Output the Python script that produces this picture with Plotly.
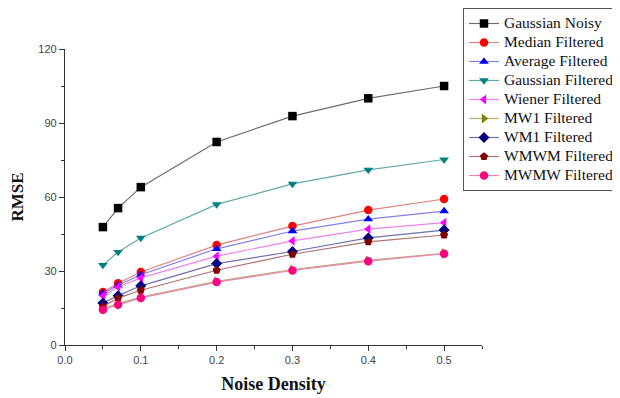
import plotly.graph_objects as go

noise_density = [0.05, 0.07, 0.1, 0.2, 0.3, 0.4, 0.5]

gaussian_noisy = [47.8, 55.5, 64.0, 82.3, 92.8, 100.0, 105.0]
median_filtered = [21.5, 25.0, 29.6, 40.5, 48.2, 54.7, 59.2]
average_filtered = [21.0, 24.2, 28.5, 39.0, 46.2, 51.0, 54.3]
gaussian_filtered = [32.4, 37.7, 43.4, 57.0, 65.3, 71.0, 75.2]
wiener_filtered = [20.0, 23.5, 27.2, 36.0, 42.2, 47.0, 49.6]
mw1_filtered = [14.8, 16.8, 19.4, 25.8, 30.6, 34.3, 37.2]
wm1_filtered = [17.0, 20.0, 24.0, 33.0, 37.9, 43.4, 46.6]
wmwm_filtered = [15.6, 19.0, 22.2, 30.3, 36.8, 41.8, 44.6]
mwmw_filtered = [14.3, 16.3, 19.1, 25.5, 30.2, 34.0, 37.0]

series = [
    ("Gaussian Noisy", gaussian_noisy, "#000000", "#6e6e6e", "square"),
    ("Median Filtered", median_filtered, "#ff0000", "#e08080", "circle"),
    ("Average Filtered", average_filtered, "#0000ff", "#8080e8", "triangle-up"),
    ("Gaussian Filtered", gaussian_filtered, "#008080", "#60aaaa", "triangle-down"),
    ("Wiener Filtered", wiener_filtered, "#ff00ff", "#f080f0", "triangle-left"),
    ("MW1 Filtered", mw1_filtered, "#808000", "#b0b070", "triangle-right"),
    ("WM1 Filtered", wm1_filtered, "#000080", "#7070b0", "diamond"),
    ("WMWM Filtered", wmwm_filtered, "#800000", "#b07070", "pentagon"),
    ("MWMW Filtered", mwmw_filtered, "#ff0080", "#f080b0", "circle"),
]

fig = go.Figure()
for name, vals, mcol, lcol, sym in series:
    fig.add_trace(go.Scatter(
        x=noise_density, y=vals,
        name='<span style="font-size:15.5px">' + name + '</span>',
        mode="lines+markers",
        line=dict(color=lcol, width=1.2),
        marker=dict(color=mcol, symbol=sym, size=8.5, line=dict(width=0)),
        hovertemplate=name + ": %{y}<extra></extra>",
    ))

axis_common = dict(
    showgrid=False, zeroline=False, showline=True, linecolor="#333333", linewidth=1.2,
    ticks="outside", ticklen=5, tickcolor="#333333", tickwidth=1,
    tickfont=dict(family="Liberation Sans, Arial", size=11, color="#444444"),
    mirror=False, automargin=False,
)

fig.update_xaxes(
    range=[0, 0.55], dtick=0.1, tick0=0, tickformat=".1f",
    minor=dict(ticks="outside", ticklen=3, dtick=0.05, tickcolor="#333333"),
    title=dict(text="<b>Noise Density</b>", font=dict(family="Liberation Serif, Times New Roman", size=18, color="#111111"), standoff=12),
    **axis_common,
)
fig.update_yaxes(
    range=[0, 120], dtick=30, tick0=0,
    minor=dict(ticks="outside", ticklen=3, dtick=15, tickcolor="#333333"),
    title=dict(text="<b>RMSE</b>", font=dict(family="Liberation Serif, Times New Roman", size=17, color="#111111"), standoff=14),
    **axis_common,
)

# page body has an 8px margin, so the figure is sized 612x390 and offset accordingly
fig.update_layout(
    width=612, height=390,
    margin=dict(l=57, r=138, t=41, b=53, autoexpand=False),
    plot_bgcolor="white", paper_bgcolor="white",
    showlegend=True,
    legend=dict(
        xref="container", yref="container",
        x=455 / 612, y=1.0, xanchor="left", yanchor="top",
        bordercolor="#555555", borderwidth=1, bgcolor="white",
        font=dict(family="Liberation Serif, Times New Roman", size=12, color="#111111"),
        tracegroupgap=0, itemwidth=30,
    ),
)

fig.write_html("out.html")
